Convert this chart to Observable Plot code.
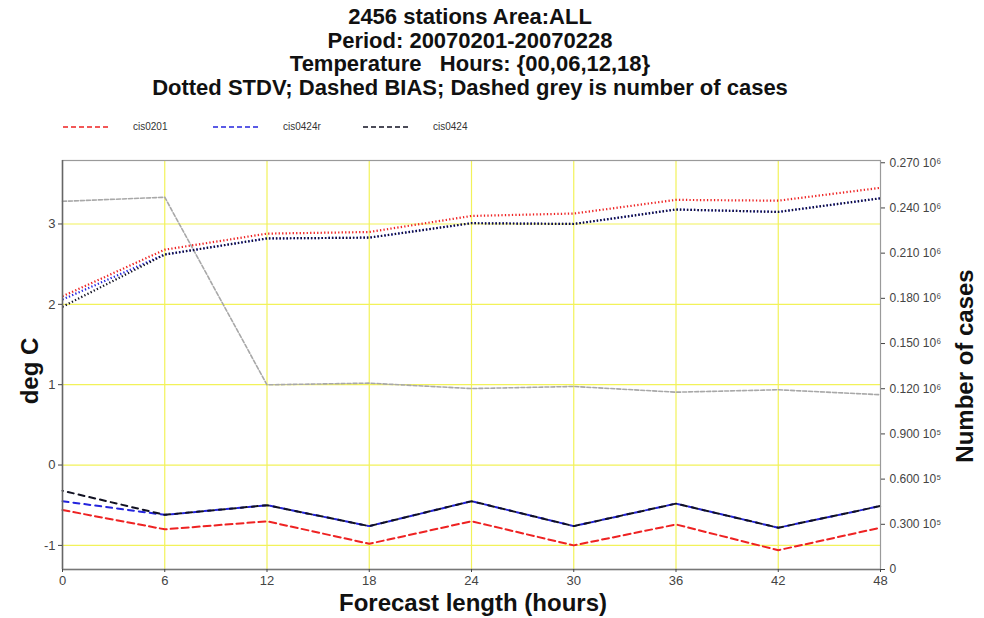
<!DOCTYPE html>
<html><head><meta charset="utf-8">
<script src="https://cdn.jsdelivr.net/npm/d3@7"></script>
<script src="https://cdn.jsdelivr.net/npm/@observablehq/plot@0.6"></script>
<style>
body{margin:0;background:#fff;font-family:"Liberation Sans",Arial,sans-serif;}
#wrap{position:relative;width:984px;height:618px;overflow:hidden;}
#chart{position:absolute;left:0;top:0;}
.t{position:absolute;left:0;width:940px;text-align:center;font-weight:bold;font-size:22px;color:#111;white-space:nowrap;line-height:1;}
.lab{position:absolute;font-weight:bold;color:#111;white-space:nowrap;line-height:1;}
#legend{position:absolute;left:0;top:120px;width:600px;height:16px;font-size:10px;color:#333;}
</style></head>
<body><div id="wrap"><div id="chart"></div>
<div class="t" style="top:6px">2456 stations Area:ALL</div>
<div class="t" style="top:29.5px">Period: 20070201-20070228</div>
<div class="t" style="top:53px">Temperature&nbsp;&nbsp;&nbsp;Hours: {00,06,12,18}</div>
<div class="t" style="top:77px">Dotted STDV; Dashed BIAS; Dashed grey is number of cases</div>
<div id="legend"></div>
<div class="lab" id="ylab" style="font-size:24px;left:30px;top:371px;transform:translate(-50%,-50%) rotate(-90deg);">deg C</div>
<div class="lab" id="y2lab" style="font-size:24px;left:965px;top:366px;transform:translate(-50%,-50%) rotate(-90deg);">Number of cases</div>
<div class="lab" id="xlab" style="font-size:24px;left:473px;top:591px;transform:translate(-50%,0);">Forecast length (hours)</div>
</div>
<script>
const hours = [0, 6, 12, 18, 24, 30, 36, 42, 48];
const series = ["cis0201", "cis0424r", "cis0424"];
const colors = ["#ee2222", "#2424dd", "#111122"];
const stdv_cis0201  = [2.10, 2.68, 2.88, 2.90, 3.10, 3.13, 3.30, 3.29, 3.45];
const stdv_cis0424r = [2.06, 2.62, 2.82, 2.83, 3.01, 3.00, 3.18, 3.15, 3.32];
const stdv_cis0424  = [1.97, 2.62, 2.82, 2.83, 3.01, 3.00, 3.18, 3.15, 3.32];
const bias_cis0201  = [-0.56, -0.80, -0.70, -0.98, -0.70, -1.00, -0.74, -1.06, -0.78];
const bias_cis0424r = [-0.45, -0.62, -0.50, -0.76, -0.45, -0.76, -0.48, -0.78, -0.51];
const bias_cis0424  = [-0.32, -0.62, -0.50, -0.76, -0.45, -0.76, -0.48, -0.78, -0.51];
const cases = [244400, 247100, 122600, 123700, 120100, 121500, 117700, 119300, 116000];
const leftTicks = [-1, 0, 1, 2, 3];
const caseTicks = [0, 30000, 60000, 90000, 120000, 150000, 180000, 210000, 240000, 270000];
const caseTickLabels = ["0", "0.300 10\u2075", "0.600 10\u2075", "0.900 10\u2075", "0.120 10\u2076",
  "0.150 10\u2076", "0.180 10\u2076", "0.210 10\u2076", "0.240 10\u2076", "0.270 10\u2076"];

const yMin = -1.30, yMax = 3.79, casesMax = 271500;
const toLeft = c => yMin + c / casesMax * (yMax - yMin);

const stdv = [stdv_cis0201, stdv_cis0424r, stdv_cis0424];
const bias = [bias_cis0201, bias_cis0424r, bias_cis0424];
const rows = (arrs) => arrs.flatMap((a, k) => a.map((v, i) => ({h: hours[i], v, s: series[k]})));
const stdvRows = rows(stdv);
const biasRows = rows(bias);
const caseRows = cases.map((c, i) => ({h: hours[i], v: toLeft(c)}));
const rightPos = caseTicks.map(toLeft);

const dashB = ["7,4", "6,5", "6,5"];
const offB = [0, 0, 5.5];

const marks = [
  Plot.gridX(hours.slice(1, -1), {stroke: "#f2f25a", strokeOpacity: 1, strokeWidth: 1.2}),
  Plot.gridY(leftTicks, {stroke: "#f2f25a", strokeOpacity: 1, strokeWidth: 1.2}),
  Plot.line(caseRows, {x: "h", y: "v", stroke: "#a8a8a8", strokeWidth: 1.6, strokeDasharray: "4,2"}),
];
series.forEach((s, k) => {
  marks.push(Plot.line(stdvRows.filter(d => d.s === s), {x: "h", y: "v", stroke: colors[k], strokeWidth: 2.2,
    strokeDasharray: "1.3,2.2", strokeLinecap: "butt", strokeLinejoin: "miter"}));
});
series.forEach((s, k) => {
  marks.push(Plot.line(biasRows.filter(d => d.s === s), {x: "h", y: "v", stroke: colors[k], strokeWidth: 2, strokeDasharray: dashB[k], strokeDashoffset: offB[k]}));
});
marks.push(
  Plot.frame({stroke: "#9a9a9a", strokeWidth: 1.2}),
  Plot.ruleX([0], {stroke: "#666", strokeWidth: 1.5}),
  Plot.ruleY([yMin], {stroke: "#777", strokeWidth: 1.5}),
  Plot.axisX(hours, {tickSize: 3, tickPadding: 3, fontSize: 13, color: "#444", label: null, tickFormat: d => String(d)}),
  Plot.axisY(leftTicks, {anchor: "left", tickSize: 4, tickPadding: 3, fontSize: 13, color: "#444", label: null, tickFormat: d => String(d)}),
  Plot.axisY(rightPos, {anchor: "right", tickSize: 4, tickPadding: 5, fontSize: 12, color: "#444", label: null,
    tickFormat: d => caseTickLabels[rightPos.indexOf(d)]})
);

const chart = Plot.plot({
  width: 984, height: 618,
  marginTop: 160, marginBottom: 49, marginLeft: 62, marginRight: 104,
  style: {fontFamily: "'Liberation Sans', Arial, sans-serif", background: "#fff"},
  x: {domain: [0, 48]},
  y: {domain: [yMin, yMax]},
  marks
});
document.getElementById("chart").appendChild(chart);

// legend
const lg = document.getElementById("legend");
const legX = [62, 212, 362];
series.forEach((s, k) => {
  const ns = "http://www.w3.org/2000/svg";
  const svg = document.createElementNS(ns, "svg");
  svg.setAttribute("width", 48); svg.setAttribute("height", 14);
  svg.style.position = "absolute"; svg.style.left = legX[k] + "px"; svg.style.top = "0px";
  const ln = document.createElementNS(ns, "line");
  ln.setAttribute("x1", 1); ln.setAttribute("x2", 47); ln.setAttribute("y1", 7); ln.setAttribute("y2", 7);
  ln.setAttribute("stroke", colors[k]); ln.setAttribute("stroke-width", 1.6); ln.setAttribute("stroke-dasharray", "5,3");
  svg.appendChild(ln); lg.appendChild(svg);
  const sp = document.createElement("span");
  sp.textContent = s;
  sp.style.position = "absolute"; sp.style.left = (legX[k] + 71) + "px"; sp.style.top = "1px";
  lg.appendChild(sp);
});
</script></body></html>
